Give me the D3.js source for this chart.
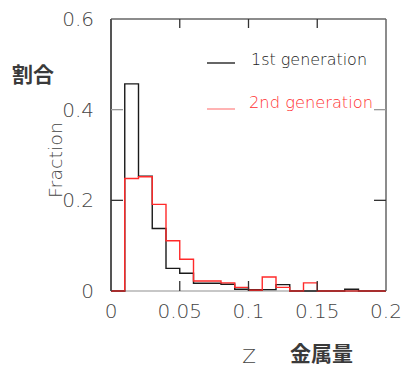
<!DOCTYPE html>
<html>
<head>
<meta charset="utf-8">
<script src="https://cdn.jsdelivr.net/npm/d3@7"></script>
<style>
  html, body { margin: 0; padding: 0; background: #fff; }
  svg { display: block; }
  .tick-label { font-family: "DejaVu Sans", sans-serif; font-weight: 200; fill: #444; }
  .cjk { font-family: "Noto Sans CJK JP", sans-serif; font-weight: 700; fill: #3a3a3a; }
</style>
</head>
<body>
<svg id="chart" width="404" height="367"></svg>
<script>
// Metallicity bins (lower edges), width 0.01
const binEdges = [0, 0.01, 0.02, 0.03, 0.04, 0.05, 0.06, 0.07, 0.08, 0.09,
                  0.10, 0.11, 0.12, 0.13, 0.14, 0.15, 0.16, 0.17, 0.18, 0.19];
const binWidth = 0.01;

// Fraction of stars per bin
const firstGen  = [0, 0.457, 0.253, 0.138, 0.050, 0.039, 0.017, 0.017, 0.015, 0.004,
                   0.003, 0.003, 0.014, 0, 0, 0, 0, 0.004, 0, 0];
const secondGen = [0, 0.248, 0.252, 0.191, 0.111, 0.070, 0.022, 0.022, 0.018, 0.008,
                   0.0015, 0.031, 0.008, 0, 0.018, 0, 0, 0, 0, 0];

const xTicks = [0, 0.05, 0.1, 0.15, 0.2];
const xTickText = ["0", "0.05", "0.1", "0.15", "0.2"];
const yTicks = [0, 0.2, 0.4, 0.6];
const yTickText = ["0", "0.2", "0.4", "0.6"];

const legendNames = ["1st generation", "2nd generation"];

const svg = d3.select("#chart");
const x = d3.scaleLinear().domain([0, 0.2]).range([111, 386]);
const y = d3.scaleLinear().domain([0, 0.6]).range([291, 19]);

// Step outline of a histogram
function stepPath(values) {
  const pts = [[binEdges[0], 0]];
  values.forEach((v, i) => {
    pts.push([binEdges[i], v]);
    pts.push([binEdges[i] + binWidth, v]);
  });
  pts.push([binEdges[binEdges.length - 1] + binWidth, 0]);
  return d3.line().x(d => x(d[0])).y(d => y(d[1]))(pts);
}

svg.append("path")
  .attr("d", stepPath(firstGen))
  .attr("fill", "none").attr("stroke", "#1a1a1a").attr("stroke-width", 1.4);
svg.append("path")
  .attr("d", stepPath(secondGen))
  .attr("fill", "none").attr("stroke", "#ff2a2a").attr("stroke-width", 1.4);

// Frame
svg.append("line").attr("x1", x(0)).attr("x2", x(0.2)).attr("y1", y(0.6)).attr("y2", y(0.6))
  .attr("stroke", "#666").attr("stroke-width", 1.5);
svg.append("line").attr("x1", x(0.2)).attr("x2", x(0.2)).attr("y1", y(0.6)).attr("y2", y(0))
  .attr("stroke", "#666").attr("stroke-width", 1.5);
svg.append("line").attr("x1", x(0)).attr("x2", x(0)).attr("y1", y(0.6)).attr("y2", y(0))
  .attr("stroke", "#555").attr("stroke-width", 2);
svg.append("line").attr("x1", x(0)).attr("x2", x(0.2)).attr("y1", y(0)).attr("y2", y(0))
  .attr("stroke", "#222").attr("stroke-width", 1.2).attr("opacity", 0.5);

// Inner ticks
const innerX = xTicks.slice(1, -1);
const innerY = yTicks.slice(1, -1);
innerX.forEach(t => {
  svg.append("line").attr("x1", x(t)).attr("x2", x(t)).attr("y1", y(0.6)).attr("y2", y(0.6) + 9)
    .attr("stroke", "#333").attr("stroke-width", 1.3);
  svg.append("line").attr("x1", x(t)).attr("x2", x(t)).attr("y1", y(0)).attr("y2", y(0) - 10)
    .attr("stroke", "#333").attr("stroke-width", 1.3);
});
innerY.forEach(t => {
  svg.append("line").attr("x1", x(0)).attr("x2", x(0) + 12).attr("y1", y(t)).attr("y2", y(t))
    .attr("stroke", t === 0.4 ? "#999" : "#333").attr("stroke-width", 1.3);
  svg.append("line").attr("x1", x(0.2)).attr("x2", x(0.2) - 12).attr("y1", y(t)).attr("y2", y(t))
    .attr("stroke", t === 0.4 ? "#999" : "#333").attr("stroke-width", 1.3);
});

// Tick labels
svg.selectAll(".ylab").data(yTicks).enter().append("text")
  .attr("class", "tick-label")
  .attr("x", 94).attr("y", d => y(d) + 7)
  .attr("text-anchor", "end").attr("font-size", 20)
  .text((d, i) => yTickText[i]);
svg.selectAll(".xlab").data(xTicks).enter().append("text")
  .attr("class", "tick-label")
  .attr("x", d => x(d)).attr("y", 318)
  .attr("text-anchor", "middle").attr("font-size", 20)
  .text((d, i) => xTickText[i]);

// Axis titles
svg.append("text").attr("class", "tick-label")
  .attr("transform", "translate(62,160) rotate(-90)")
  .attr("text-anchor", "middle").attr("font-size", 18)
  .attr("textLength", 76).attr("lengthAdjust", "spacingAndGlyphs")
  .text("Fraction");
svg.append("text").attr("class", "tick-label")
  .attr("x", 249).attr("y", 363).attr("text-anchor", "middle").attr("font-size", 20)
  .text("Z");
svg.append("text").attr("class", "cjk")
  .attr("x", 12).attr("y", 82).attr("font-size", 21)
  .text("割合");
svg.append("text").attr("class", "cjk")
  .attr("x", 290).attr("y", 361).attr("font-size", 21)
  .text("金属量");

// Legend
const legendColors = ["#222", "#ff3030"];
const legendLineColors = ["#333", "#ff9a9a"];
const legendY = [63, 109];
legendNames.forEach((name, i) => {
  svg.append("line").attr("x1", 207).attr("x2", 235).attr("y1", legendY[i]).attr("y2", legendY[i])
    .attr("stroke", legendLineColors[i]).attr("stroke-width", 1.5);
  svg.append("text").attr("class", "tick-label")
    .attr("x", i === 0 ? 251 : 249).attr("y", legendY[i] + (i === 0 ? 2 : -1))
    .attr("font-size", 16)
    .attr("textLength", i === 0 ? 116 : 124).attr("lengthAdjust", "spacingAndGlyphs")
    .style("fill", legendColors[i])
    .text(name);
});
</script>
</body>
</html>
